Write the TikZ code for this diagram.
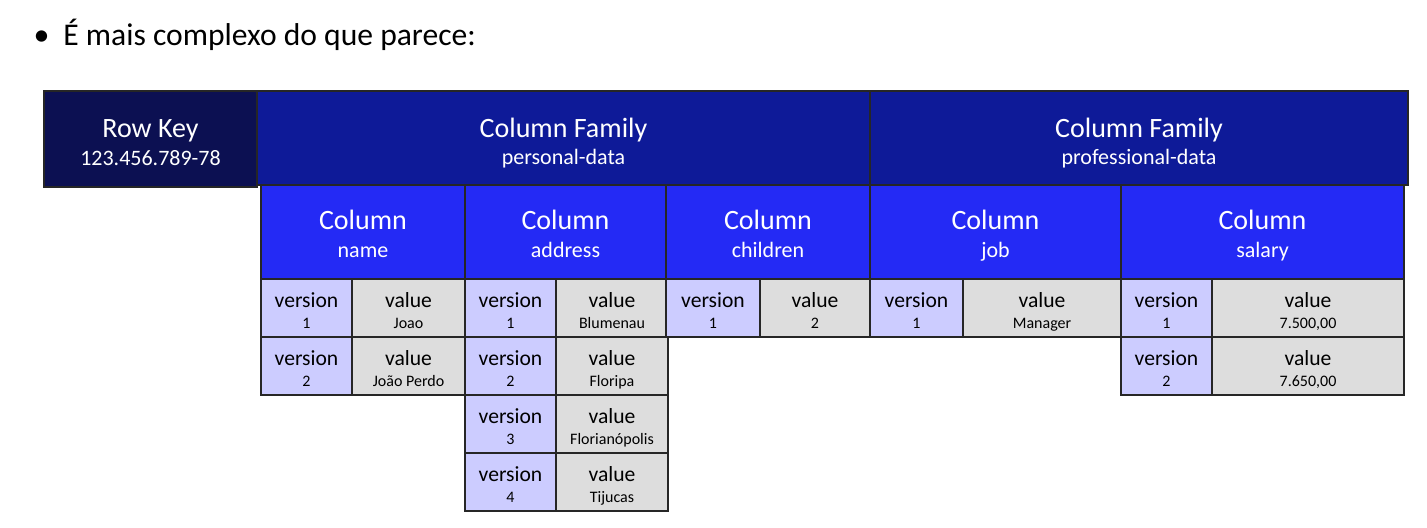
\documentclass[tikz,border=0pt]{standalone}
\usepackage{fontspec}
\setmainfont{Carlito}
\definecolor{rowkeyblue}{RGB}{12,16,82}
\definecolor{familyblue}{RGB}{14,26,152}
\definecolor{columnblue}{RGB}{36,42,245}
\definecolor{versionlilac}{RGB}{204,204,255}
\definecolor{valuegray}{RGB}{221,221,221}
\newcommand{\rktext}[2]{{\fontsize{14}{14}\selectfont\rule{0pt}{12.3pt}#1}\\{\fontsize{11}{14}\selectfont #2}}
\newcommand{\famtext}[2]{{\fontsize{14}{13.5}\selectfont\rule{0pt}{15pt}#1}\\{\fontsize{11}{13.5}\selectfont #2}}
\newcommand{\coltext}[1]{{\fontsize{14}{14}\selectfont\rule{0pt}{14.6pt}Column}\\{\fontsize{11}{14}\selectfont\rule[-2.8pt]{0pt}{2.8pt}#1}}
\newcommand{\celltext}[2]{{\fontsize{10.8}{10.5}\selectfont\rule{0pt}{11.6pt}#1}\\{\fontsize{8}{10.5}\selectfont\rule[-2pt]{0pt}{2pt}#2}}
\begin{document}
\begin{tikzpicture}[x=0.5pt, y=-0.5pt,
  cellbase/.style={draw=black!85,line width=1pt,inner sep=0pt,outer sep=0pt,align=center},
  rkbox/.style={cellbase,fill=rowkeyblue,text=white,font=\fontsize{14}{14}\selectfont},
  cfbox/.style={cellbase,fill=familyblue,text=white,minimum height=47pt,font=\fontsize{14}{13.5}\selectfont},
  colbox/.style={cellbase,fill=columnblue,text=white,minimum height=47pt,font=\fontsize{14}{14}\selectfont},
  verbox/.style={cellbase,fill=versionlilac,minimum height=29pt,font=\fontsize{11}{10.5}\selectfont},
  valbox/.style={cellbase,fill=valuegray,minimum height=29pt,font=\fontsize{11}{10.5}\selectfont}]
\useasboundingbox (0,0) rectangle (1427,528);
% title
\node[anchor=base,font=\fontsize{16}{18}\selectfont] (bullet) at (41.5,46) {•};
\node[anchor=base west,inner sep=0pt,font=\fontsize{15.8}{18}\selectfont] (title) at (63,46) {É mais complexo do que parece:};
% columns
\node[colbox,minimum width=102pt] (colname) at (363,232) {\coltext{name}};
\node[colbox,minimum width=100.5pt] (coladdress) at (565.5,232) {\coltext{address}};
\node[colbox,minimum width=102pt] (colchildren) at (768,232) {\coltext{children}};
\node[colbox,minimum width=125.5pt] (coljob) at (995.5,232) {\coltext{job}};
\node[colbox,minimum width=141.5pt] (colsalary) at (1262.5,232) {\coltext{salary}};
% row key and column families
\node[rkbox,minimum width=106.5pt,minimum height=48pt] (rowkey) at (150.5,139) {\rktext{Row Key}{123.456.789-78}};
\node[cfbox,minimum width=306.5pt] (cfpersonal) at (563.5,138) {\famtext{Column Family}{personal-data}};
\node[cfbox,minimum width=269pt] (cfprofessional) at (1139,138) {\famtext{Column Family}{professional-data}};
% name
\node[verbox,minimum width=45.5pt] (namever1) at (306.5,308) {\celltext{version}{1}};
\node[valbox,minimum width=56.5pt] (nameval1) at (408.5,308) {\celltext{value}{Joao}};
\node[verbox,minimum width=45.5pt] (namever2) at (306.5,366) {\celltext{version}{2}};
\node[valbox,minimum width=56.5pt] (nameval2) at (408.5,366) {\celltext{value}{João Perdo}};
% address
\node[verbox,minimum width=45.5pt] (addrver1) at (510.5,308) {\celltext{version}{1}};
\node[valbox,minimum width=56pt] (addrval1) at (612,308) {\celltext{value}{Blumenau}};
\node[verbox,minimum width=45.5pt] (addrver2) at (510.5,366) {\celltext{version}{2}};
\node[valbox,minimum width=56pt] (addrval2) at (612,366) {\celltext{value}{Floripa}};
\node[verbox,minimum width=45.5pt] (addrver3) at (510.5,424) {\celltext{version}{3}};
\node[valbox,minimum width=56pt] (addrval3) at (612,424) {\celltext{value}{Florianópolis}};
\node[verbox,minimum width=45.5pt] (addrver4) at (510.5,482) {\celltext{version}{4}};
\node[valbox,minimum width=56pt] (addrval4) at (612,482) {\celltext{value}{Tijucas}};
% children
\node[verbox,minimum width=47pt] (chldver1) at (713,308) {\celltext{version}{1}};
\node[valbox,minimum width=55pt] (chldval1) at (815,308) {\celltext{value}{2}};
% job
\node[verbox,minimum width=46.5pt] (jobver1) at (916.5,308) {\celltext{version}{1}};
\node[valbox,minimum width=79pt] (jobval1) at (1042,308) {\celltext{value}{Manager}};
% salary
\node[verbox,minimum width=45.5pt] (salver1) at (1166.5,308) {\celltext{version}{1}};
\node[valbox,minimum width=96pt] (salval1) at (1308,308) {\celltext{value}{7.500,00}};
\node[verbox,minimum width=45.5pt] (salver2) at (1166.5,366) {\celltext{version}{2}};
\node[valbox,minimum width=96pt] (salval2) at (1308,366) {\celltext{value}{7.650,00}};
\end{tikzpicture}
\end{document}
